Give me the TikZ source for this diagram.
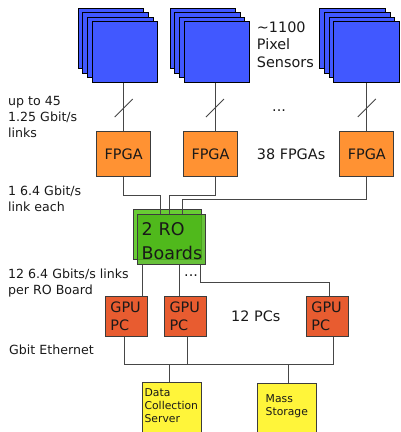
\documentclass[tikz,border=0pt]{standalone}
\usepackage{fontspec}
\setmainfont{DejaVu Sans}
\usetikzlibrary{calc}
\definecolor{ink}{RGB}{25,25,25}
\definecolor{wirecol}{RGB}{70,70,70}
\definecolor{edgecol}{RGB}{60,60,60}
\definecolor{sensorblue}{RGB}{65,88,255}
\definecolor{fpgaorange}{RGB}{255,146,51}
\definecolor{roback}{RGB}{104,204,52}
\definecolor{rofront}{RGB}{76,182,24}
\definecolor{gpured}{RGB}{232,92,48}
\definecolor{storeyellow}{RGB}{255,245,58}
\begin{document}
\begin{tikzpicture}[x=1pt,y=-1pt,
  wire/.style={draw=wirecol,line width=0.9pt},
  sensor/.style={draw=black,line width=1pt,fill=sensorblue,minimum width=65.5pt,minimum height=60.7pt,inner sep=0pt},
  fpgabox/.style={draw=edgecol,line width=0.8pt,fill=fpgaorange,minimum width=54pt,minimum height=45pt,inner sep=0pt,font=\fontsize{14.4}{17.5}\selectfont,text=ink},
  robox/.style={draw=edgecol,line width=0.8pt,minimum width=67.5pt,minimum height=50pt,inner ysep=0pt,inner xsep=4pt,text width=59.5pt,align=left,font=\fontsize{17.5}{23.4}\selectfont,text=ink},
  gpubox/.style={draw=edgecol,line width=0.8pt,fill=gpured,minimum width=41.7pt,minimum height=40.7pt,inner ysep=0pt,inner xsep=5pt,text width=31.7pt,align=left,font=\fontsize{14.4}{18.3}\selectfont,text=ink},
  storebox/.style={draw=edgecol,line width=0.8pt,fill=storeyellow,minimum width=59pt,minimum height=70pt,inner sep=0pt},
  lbl/.style={font=\fontsize{12.6}{16}\selectfont,text=ink,align=left,inner sep=0pt,anchor=west},
  biglbl/.style={font=\fontsize{14.4}{17.5}\selectfont,text=ink,align=left,inner sep=0pt,anchor=west},
  smalllbl/.style={text=ink,align=left,inner sep=0pt,anchor=north west},
]
\useasboundingbox (0,0) rectangle (400,432);
\clip (0,0) rectangle (400,432);

% stacks of pixel sensors, back sheets first
\foreach \i/\x in {1/125,2/216.8,3/366.7}{
  \node[sensor] (s\i-3) at (\x-14,52-13.5) {};
  \node[sensor] (s\i-2) at (\x-9.3,52-9) {};
  \node[sensor] (s\i-1) at (\x-4.7,52-4.5) {};
  \node[sensor] (s\i) at (\x,52) {};
}

% FPGAs
\node[fpgabox] (f1) at (123.7,154.2) {FPGA};
\node[fpgabox] (f2) at (210.5,154.2) {FPGA};
\node[fpgabox] (f3) at (366.8,154.2) {FPGA};

% read-out boards
\node[robox,fill=roback] (roback) at (167.3,234.2) {};
\node[robox,fill=rofront,fill opacity=0.85,text opacity=1,text height=16pt,text depth=23.2pt] (ro) at (171.4,239.2) {2 RO\\Boards};

% GPU PCs
\node[gpubox] (g1) at (126.2,316.3) {GPU\\PC};
\node[gpubox] (g2) at (185.4,316.3) {GPU\\PC};
\node[gpubox] (g3) at (327.2,316.3) {GPU\\PC};

% storage side
\node[storebox] (dcs) at (171.8,417.3) {};
\node[storebox] (ms) at (286.5,418.3) {};
\node[smalllbl,font=\fontsize{10.8}{13}\selectfont] (dcstext) at (144.4,388.4) {Data\\Collection\\Server};
\node[smalllbl,font=\fontsize{10.8}{12.7}\selectfont] (mstext) at (265.5,394.4) {Mass\\Storage};

% sensor links with bundle ticks
\coordinate (c2) at ($(f2.north)+(4.5,0)$);
\draw[wire] (f1.north |- s1.south) coordinate (a1) -- (f1.north);
\draw[wire] (c2 |- s2.south) coordinate (a2) -- (c2);
\draw[wire] (f3.north |- s3.south) coordinate (a3) -- (f3.north);
\coordinate (t1) at ($(a1)!0.52!(f1.north)$);
\coordinate (t2) at ($(a2)!0.52!(c2)$);
\coordinate (t3) at ($(a3)!0.52!(f3.north)$);
\foreach \t in {t1,t2,t3}
  \draw[wire] ($(\t)+(-9,9)$) -- ($(\t)+(9,-9)$);

% FPGA to read-out boards
\draw[wire] (f1.south) -- ++(0,18.3) -| ([xshift=-10.7pt]ro.north);
\draw[wire] ([xshift=4.5pt]f2.south) -- ++(0,18.3) -| ([xshift=-2.4pt]ro.north);
\draw[wire] ([xshift=-0.8pt]f3.south) -- ++(0,22.8) -| ([xshift=11.3pt]ro.north);

% read-out boards to GPU PCs
\coordinate (r1) at ([xshift=-28.7pt]ro.south);
\coordinate (r2) at ([xshift=7.9pt]ro.south);
\coordinate (r3) at ([xshift=29.3pt]ro.south);
\draw[wire] (r1) -- (r1 |- g1.north);
\draw[wire] (r2) -- (r2 |- g2.north);
\draw[wire] (r3) -- ++(0,17.5) -| ([xshift=1.8pt]g3.north);

% Ethernet bus
\coordinate (e1) at ([xshift=-2.2pt]g1.south);
\coordinate (e2) at ([xshift=2.3pt]g2.south);
\coordinate (e3) at ([xshift=6.1pt]g3.south);
\draw[wire] (e1) -- ++(0,27) coordinate (bus) -| (e3);
\draw[wire] (e2) -- (e2 |- bus);
\coordinate (d1) at ([xshift=-2.5pt]dcs.north);
\coordinate (d2) at ([xshift=1.8pt]ms.north);
\draw[wire] (d1 |- bus) -- (d1);
\draw[wire] (d2 |- bus) -- (d2);

% labels
\node[biglbl] (sensorlbl) at (256.7,44.5) {\textasciitilde1100\\Pixel\\Sensors};
\node[biglbl] (fpgalbl) at (256.7,154) {38 FPGAs};
\node[biglbl] (pclbl) at (231,316.7) {12 PCs};
\node[biglbl,anchor=base west] (dots1) at (272,111) {...};
\node[biglbl,anchor=base west] (dots2) at (184,276.5) {...};
\node[lbl] (linklbl) at (8,117) {up to 45\\1.25 Gbit/s\\links};
\node[lbl] (fpgalink) at (8,199) {1 6.4 Gbit/s\\link each};
\node[lbl] (rolink) at (8,282.8) {12 6.4 Gbits/s links\\per RO Board};
\node[lbl] (ethlbl) at (9,350) {Gbit Ethernet};
\end{tikzpicture}
\end{document}
